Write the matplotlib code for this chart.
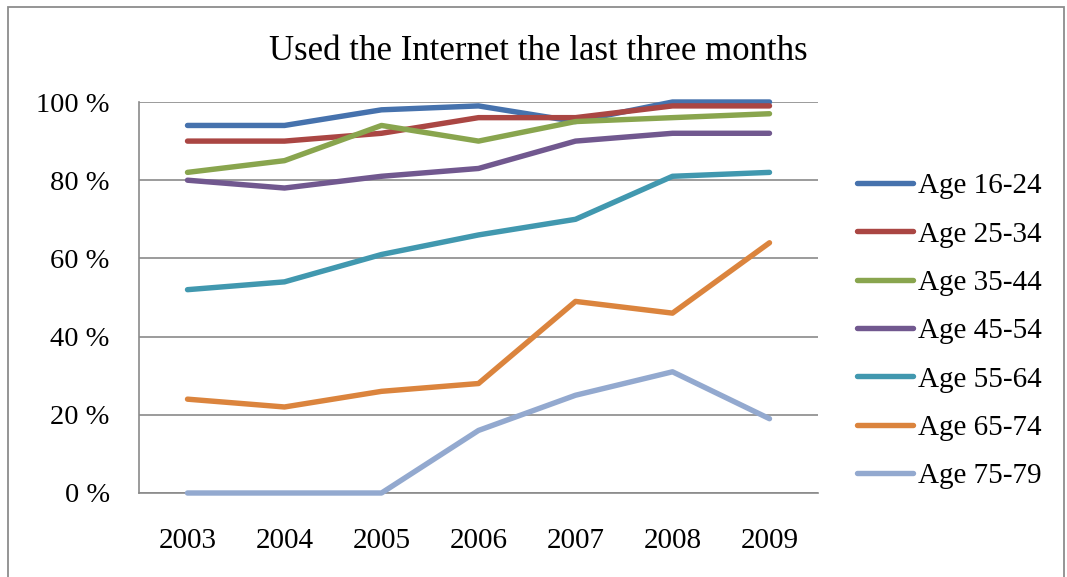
import matplotlib
matplotlib.use("Agg")
import matplotlib.pyplot as plt
from matplotlib.patches import Rectangle

years = ["2003", "2004", "2005", "2006", "2007", "2008", "2009"]
age_groups = ["Age 16-24", "Age 25-34", "Age 35-44", "Age 45-54",
              "Age 55-64", "Age 65-74", "Age 75-79"]

age_16_24 = [94, 94, 98, 99, 95, 100, 100]
age_25_34 = [90, 90, 92, 96, 96, 99, 99]
age_35_44 = [82, 85, 94, 90, 95, 96, 97]
age_45_54 = [80, 78, 81, 83, 90, 92, 92]
age_55_64 = [52, 54, 61, 66, 70, 81, 82]
age_65_74 = [24, 22, 26, 28, 49, 46, 64]
age_75_79 = [0, 0, 0, 16, 25, 31, 19]

series = [age_16_24, age_25_34, age_35_44, age_45_54,
          age_55_64, age_65_74, age_75_79]
colors = ["#4672AD", "#AA4643", "#89A54E", "#71588F",
          "#4198AF", "#DB843D", "#93A9CF"]
y_ticks = [0, 20, 40, 60, 80, 100]

plt.rcParams["font.family"] = ["Liberation Serif", "DejaVu Serif"]

fig = plt.figure(figsize=(10.67, 5.77), dpi=100)
fig.patch.set_facecolor("white")

# chart frame
fig.patches.append(Rectangle((8 / 1067, -0.05), (1064 - 8) / 1067, 1.05 - 7 / 577,
                             transform=fig.transFigure, fill=False,
                             edgecolor="#8c8c8c", linewidth=1.3))

ax = fig.add_axes([139 / 1067, 1 - 493 / 577, (818 - 139) / 1067, (493 - 102) / 577])
x = list(range(len(years)))
for vals, name, col in zip(series, age_groups, colors):
    ax.plot(x, vals, color=col, linewidth=3.9, label=name, clip_on=False,
            solid_capstyle="round", solid_joinstyle="round", zorder=3)

ax.set_xlim(-0.5, len(years) - 0.5)
ax.set_ylim(0, 100)
ax.set_yticks(y_ticks)
ax.set_yticklabels([f"{t} %" for t in y_ticks], fontsize=20.5)
ax.set_xticks(x)
ax.set_xticklabels(years, fontsize=21)
ax.tick_params(axis="y", length=0, pad=21)
ax.tick_params(axis="x", length=0, pad=25)
ax.grid(axis="y", color="#8a8a8a", linewidth=1.2)
ax.set_axisbelow(True)
for side in ["top", "right"]:
    ax.spines[side].set_visible(False)
for side in ["left", "bottom"]:
    ax.spines[side].set_color("#8a8a8a")
    ax.spines[side].set_linewidth(1.2)

fig.text(538 / 1067, 1 - 52 / 577, "Used the Internet the last three months",
         ha="center", va="center", fontsize=25)

leg = ax.legend(loc="upper left", bbox_to_anchor=(857 / 1067, 1 - 173 / 577),
                bbox_transform=fig.transFigure, frameon=False, fontsize=21,
                handlelength=1.93, handletextpad=0.17, labelspacing=0.75,
                borderaxespad=0, borderpad=0)

fig.savefig("out.png", dpi=100, facecolor="white")
